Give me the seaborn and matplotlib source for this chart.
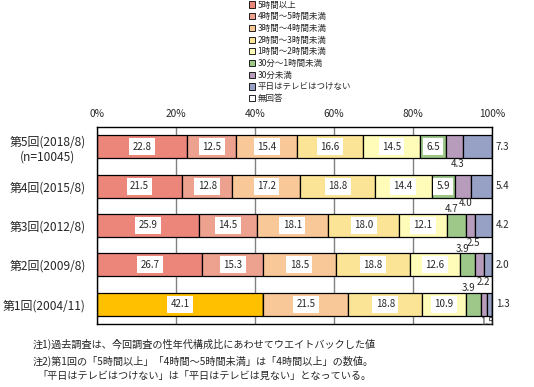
import numpy as np
import matplotlib
matplotlib.use("Agg")
import matplotlib.pyplot as plt
from matplotlib.patches import Patch
import seaborn as sns

rows = ["第5回(2018/8)\n(n=10045)", "第4回(2015/8)", "第3回(2012/8)",
        "第2回(2009/8)", "第1回(2004/11)"]
over4 = [0, 0, 0, 0, 42.1]
h5 = [22.8, 21.5, 25.9, 26.7, 0]
h4_5 = [12.5, 12.8, 14.5, 15.3, 0]
h3_4 = [15.4, 17.2, 18.1, 18.5, 21.5]
h2_3 = [16.6, 18.8, 18.0, 18.8, 18.8]
h1_2 = [14.5, 14.4, 12.1, 12.6, 10.9]
m30_1h = [6.5, 5.9, 4.7, 3.9, 3.9]
m30 = [4.3, 4.0, 2.5, 2.2, 1.5]
no_tv = [7.3, 5.4, 4.2, 2.0, 1.3]
no_ans = [0.1, 0.0, 0.0, 0.0, 0.0]

legend_labels = ["5時間以上", "4時間～5時間未満", "3時間～4時間未満", "2時間～3時間未満",
                 "1時間～2時間未満", "30分～1時間未満", "30分未満",
                 "平日はテレビはつけない", "無回答"]
xticks = [0, 20, 40, 60, 80, 100]
xticklabels = ["0%", "20%", "40%", "60%", "80%", "100%"]
notes = ["注1)過去調査は、今回調査の性年代構成比にあわせてウエイトバックした値",
         "注2)第1回の「5時間以上」「4時間～5時間未満」は「4時間以上」の数値。",
         "「平日はテレビはつけない」は「平日はテレビは見ない」となっている。"]

colors = {
    "4時間以上": "#FFC000",
    "5時間以上": "#EC867A",
    "4時間～5時間未満": "#ECA28E",
    "3時間～4時間未満": "#F9C898",
    "2時間～3時間未満": "#FCE496",
    "1時間～2時間未満": "#FFFCBA",
    "30分～1時間未満": "#9EC88A",
    "30分未満": "#B89CBC",
    "平日はテレビはつけない": "#97A1C6",
    "無回答": "#FFFFFF",
}

segments = [("4時間以上", over4), ("5時間以上", h5), ("4時間～5時間未満", h4_5),
            ("3時間～4時間未満", h3_4), ("2時間～3時間未満", h2_3),
            ("1時間～2時間未満", h1_2), ("30分～1時間未満", m30_1h),
            ("30分未満", m30), ("平日はテレビはつけない", no_tv), ("無回答", no_ans)]

sns.set_theme(style="white")
plt.rcParams["font.family"] = ["Noto Sans CJK JP", "DejaVu Sans"]

fig = plt.figure(figsize=(5.34, 3.87), dpi=100)
ax = fig.add_axes([97 / 534, 1 - 324 / 387, 395 / 534, 197 / 387])

BW = 0.58
left = np.zeros(len(rows))
lefts = {}
for name, vals in segments:
    v = np.array(vals, dtype=float)
    sns.barplot(x=v, y=rows, order=rows, orient="h", color=colors[name],
                saturation=1, left=left.copy(), width=BW, edgecolor="black",
                linewidth=0.9, errorbar=None, ax=ax, zorder=2)
    lefts[name] = left.copy()
    left = left + v

ax.set_xlim(0, 100)
ax.set_ylim(4.5, -0.5)
ax.set_xlabel("")
ax.set_ylabel("")
ax.xaxis.tick_top()
ax.set_xticks(xticks)
ax.set_xticklabels(xticklabels, fontsize=7.3)
ax.tick_params(axis="x", length=0, pad=6)
ax.tick_params(axis="y", length=0, pad=8, labelsize=8.6)
for t in ax.get_yticklabels():
    t.set_multialignment("center")
ax.set_axisbelow(True)
ax.xaxis.grid(True, color="#808080", linewidth=1)
ax.yaxis.grid(False)
for s in ax.spines.values():
    s.set_color("black")
    s.set_linewidth(1)

box = dict(boxstyle="square,pad=0.35", facecolor="white", edgecolor="none")
inside = ["4時間以上", "5時間以上", "4時間～5時間未満", "3時間～4時間未満",
          "2時間～3時間未満", "1時間～2時間未満", "30分～1時間未満"]
data = dict(segments)
for name in inside:
    for i, val in enumerate(data[name]):
        if val <= 0:
            continue
        cx = lefts[name][i] + val / 2
        if name == "30分～1時間未満" and val < 5:
            ax.text(cx - 1.3, i - BW / 2 - 0.12, f"{val:.1f}", ha="center",
                    va="center", fontsize=7, zorder=4)
        else:
            ax.text(cx, i, f"{val:.1f}", ha="center", va="center", fontsize=7,
                    bbox=box, zorder=4)
for i, val in enumerate(m30):
    cx = lefts["30分未満"][i] + val / 2
    ax.text(cx + 0.8, i + BW / 2 + 0.15, f"{val:.1f}", ha="center", va="center",
            fontsize=7, zorder=4)
for i, val in enumerate(no_tv):
    ax.text(101.0, i, f"{val:.1f}", ha="left", va="center", fontsize=7,
            zorder=4, clip_on=False)

handles = [Patch(facecolor=colors[l], edgecolor="black", linewidth=0.6)
           for l in legend_labels]
fig.legend(handles, legend_labels, loc="upper left",
           bbox_to_anchor=(249 / 534, 1 - 0.5 / 387), frameon=False, fontsize=6.1,
           handlelength=0.75, handleheight=0.75, handletextpad=0.25,
           labelspacing=0.32, borderpad=0, borderaxespad=0)

note_y = [344, 361, 376]
note_x = [33, 33, 37]
for txt, x, y in zip(notes, note_x, note_y):
    fig.text(x / 534, 1 - y / 387, txt, ha="left", va="center", fontsize=7.3)

fig.savefig("out.png", dpi=100)
